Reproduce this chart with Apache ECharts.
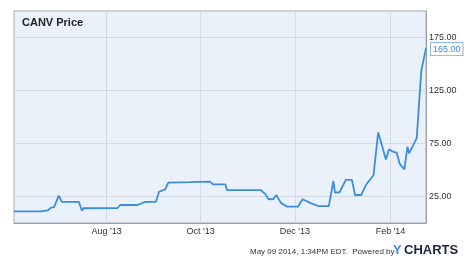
<!DOCTYPE html>
<html>
<head>
<meta charset="utf-8">
<script src="https://cdn.jsdelivr.net/npm/echarts@6/dist/echarts.min.js"></script>
<style>
html,body{margin:0;padding:0;background:#fff;}
#c{width:474px;height:263px;}
</style>
</head>
<body>
<div id="c"></div>
<script>
const dates = ['2013-06-02','2013-06-19','2013-06-20','2013-06-24','2013-06-26','2013-06-28','2013-07-01','2013-07-03','2013-07-14','2013-07-16','2013-07-17','2013-08-08','2013-08-10','2013-08-21','2013-08-26','2013-09-02','2013-09-04','2013-09-08','2013-09-10','2013-09-24','2013-10-07','2013-10-09','2013-10-17','2013-10-18','2013-11-09','2013-11-12','2013-11-14','2013-11-17','2013-11-19','2013-11-22','2013-11-26','2013-12-03','2013-12-06','2013-12-11','2013-12-16','2013-12-23','2013-12-26','2013-12-27','2013-12-30','2014-01-03','2014-01-07','2014-01-09','2014-01-13','2014-01-16','2014-01-21','2014-01-24','2014-01-29','2014-01-31','2014-02-03','2014-02-05','2014-02-07','2014-02-10','2014-02-12','2014-02-13','2014-02-18','2014-02-20','2014-02-21','2014-02-24'];
const prices = [11,11,12,12,14.5,15,25.8,20,20,11.6,13.9,14,17,17,20,20,29.5,31.8,38,38.5,39,36.5,36.5,31,31,27,22.4,22.5,26.4,19,15.4,15.4,22.4,19,16,16,39.6,28.6,29,40.6,40.6,26.4,26.4,35.8,45,85.5,60,69.5,67,66.3,55.7,50.6,72,65.7,80,124,144,165];
const xTickDates = ['2013-08-01','2013-10-01','2013-12-01','2014-02-01'];
const xTickLabels = ["Aug '13","Oct '13","Dec '13","Feb '14"];
const yTicks = [25,75,125,175];
const xMin = '2013-06-02', xMax = '2014-02-24';

function ts(s){const p=s.split('-').map(Number);return Date.UTC(p[0],p[1]-1,p[2]);}
const xTickTs = xTickDates.map(ts);
const FONT = '"Liberation Sans", Arial, sans-serif';

const chart = echarts.init(document.getElementById('c'), null, {renderer:'canvas'});
chart.setOption({
  animation:false,
  backgroundColor:'#ffffff',
  title:{text:'CANV Price',left:17,top:12,textStyle:{fontFamily:FONT,fontSize:11,fontWeight:'bold',color:'#222'}},
  grid:{left:14,right:48,top:11,bottom:40,show:true,backgroundColor:'#EAF1FB',borderColor:'#A8ADB5',borderWidth:1},
  xAxis:{
    type:'value', min:ts(xMin), max:ts(xMax),
    axisLine:{show:true,lineStyle:{color:'#9CA1A8',width:1}},
    axisTick:{show:false,customValues:xTickTs},
    axisLabel:{customValues:xTickTs,color:'#333',fontFamily:FONT,fontSize:9,margin:4,
      formatter:function(v){const i=xTickTs.indexOf(v);return i>=0?xTickLabels[i]:'';}},
    splitLine:{show:true,lineStyle:{color:'#D3DAE4',width:1}}
  },
  yAxis:{
    type:'value', position:'right', min:0, max:200,
    axisLine:{show:true,lineStyle:{color:'#9CA1A8',width:1}},
    axisTick:{show:false,customValues:yTicks},
    axisLabel:{customValues:yTicks,color:'#333',fontFamily:FONT,fontSize:9,margin:3,
      formatter:function(v){return v.toFixed(2);}},
    splitLine:{show:true,lineStyle:{color:'#D3DAE4',width:1}}
  },
  series:[{
    type:'line', showSymbol:false, symbol:'none',
    data:dates.map((d,i)=>[ts(d),prices[i]]),
    lineStyle:{color:'#3A8EDC',width:1.8},
    endLabel:{show:true,formatter:function(p){return p.value[1].toFixed(2);},
      color:'#3A8EDC',fontFamily:FONT,fontSize:9,backgroundColor:'#fff',
      borderColor:'#8FB8E0',borderWidth:1,padding:[2,2,1,2],distance:5,offset:[0,1]}
  }],
  graphic:[
    {type:'rect',shape:{x:15,y:12,width:302,height:19},style:{fill:'rgba(255,255,255,0.35)'},z:-1,silent:true},
    {type:'text',left:250,top:248,style:{text:'May 09 2014, 1:34PM EDT.  Powered by',fontFamily:FONT,fontSize:8,fill:'#333'}},
    {type:'text',left:393,top:244,style:{text:'Y',fontFamily:FONT,fontSize:13,fontWeight:'bold',fill:'#3B8FE0'}},
    {type:'text',left:404,top:244,style:{text:'CHARTS',fontFamily:FONT,fontSize:13,fontWeight:'bold',fill:'#1B2540',letterSpacing:1.5}}
  ]
});
</script>
</body>
</html>
